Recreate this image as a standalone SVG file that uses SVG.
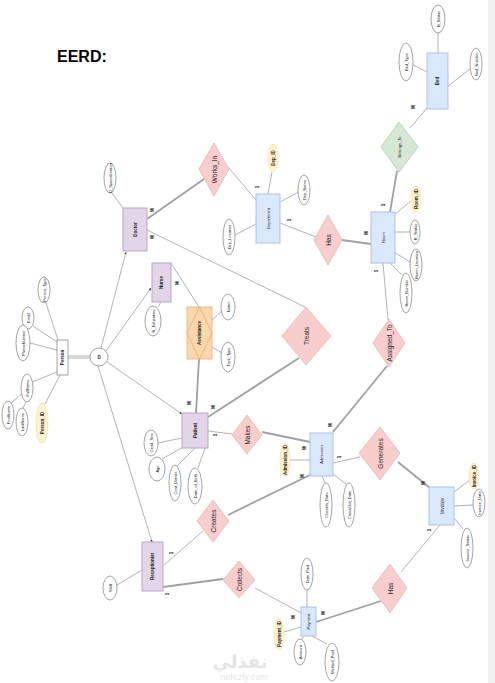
<svg xmlns="http://www.w3.org/2000/svg" width="495" height="683" viewBox="0 0 495 683">
<style>
text{font-family:"Liberation Sans",Arial,sans-serif;fill:#222}
.t{font-size:4px;text-anchor:middle;dominant-baseline:central}
.tb{font-size:4.5px;font-weight:bold;text-anchor:middle;dominant-baseline:central}
.r{font-size:6.5px;text-anchor:middle;dominant-baseline:central}
.c{font-size:4.5px;font-weight:bold;text-anchor:middle;dominant-baseline:central}
.eb{fill:#dae8fc;stroke:#a9c4eb;stroke-width:1}
.ep{fill:#e1d5e7;stroke:#b9a6c7;stroke-width:1}
.rel{fill:#f8cecc;stroke:#eeb4b4;stroke-width:0.8}
.grn{fill:#d5e8d4;stroke:#a8cfa6;stroke-width:0.8}
.at{fill:#fff;stroke:#666;stroke-width:0.6}
.key{fill:#fff2cc;stroke:#f0e0a0;stroke-width:0.6}
.ln{stroke:#a0a0a0;stroke-width:0.8;fill:none}
.lt{stroke:#a0a0a0;stroke-width:1.8;fill:none}
.sub{stroke:#a0a0a0;stroke-width:0.8;fill:none;marker-end:url(#arr)}
</style>
<defs>
<marker id="arr" viewBox="0 0 6 6" refX="6" refY="3" markerWidth="3" markerHeight="3" orient="auto">
<path d="M0,0 L6,3 L0,6 Z" fill="#333"/>
</marker>
</defs>
<rect width="495" height="683" fill="#fff"/>
<rect x="488" y="0" width="7" height="683" fill="#f1f1f1"/>
<text x="57" y="62" style="font-size:16px;font-weight:bold;fill:#000">EERD:</text>

<g id="connectors">
<line class="ln" x1="438" y1="33" x2="438" y2="53"/>
<line class="ln" x1="413" y1="65" x2="427" y2="72"/>
<line class="ln" x1="448" y1="86" x2="470" y2="69"/>
<line class="ln" x1="427" y1="108" x2="410" y2="128"/>
<line class="lt" x1="397" y1="171" x2="390" y2="212"/>
<line class="ln" x1="394" y1="215" x2="411" y2="201"/>
<line class="ln" x1="394" y1="232" x2="410" y2="232"/>
<line class="ln" x1="394" y1="252" x2="410" y2="262"/>
<line class="ln" x1="390" y1="263" x2="402" y2="275"/>
<line class="ln" x1="383" y1="263" x2="388" y2="320"/>
<line class="lt" x1="387" y1="366" x2="333" y2="432"/>
<line class="ln" x1="268" y1="194" x2="272" y2="172"/>
<line class="ln" x1="280" y1="202" x2="299" y2="192"/>
<line class="ln" x1="256" y1="224" x2="235" y2="235"/>
<line class="ln" x1="280" y1="223" x2="316" y2="237"/>
<line class="lt" x1="342" y1="240" x2="371" y2="244"/>
<line class="ln" x1="228" y1="167" x2="256" y2="200"/>
<line class="lt" x1="147" y1="219" x2="204" y2="179"/>
<line class="ln" x1="123" y1="208" x2="112" y2="193"/>
<line class="ln" x1="147" y1="230" x2="305" y2="307"/>
<line class="lt" x1="299" y1="358" x2="208" y2="417"/>
<line class="ln" x1="161" y1="302" x2="158" y2="307"/>
<line class="ln" x1="171" y1="263" x2="199" y2="307"/>
<line class="ln" x1="212" y1="320" x2="222" y2="311"/>
<line class="ln" x1="212" y1="347" x2="222" y2="353"/>
<line class="lt" x1="199" y1="359" x2="196" y2="413"/>
<line class="ln" x1="182" y1="438" x2="158" y2="443"/>
<line class="ln" x1="185" y1="446" x2="162" y2="459"/>
<line class="ln" x1="195" y1="448" x2="177" y2="466"/>
<line class="ln" x1="205" y1="448" x2="198" y2="468"/>
<line class="ln" x1="208" y1="431" x2="232" y2="434"/>
<line class="lt" x1="262" y1="432" x2="310" y2="442"/>
<line class="ln" x1="310" y1="460" x2="290" y2="460"/>
<line class="ln" x1="322" y1="476" x2="325" y2="483"/>
<line class="ln" x1="333" y1="474" x2="346" y2="484"/>
<line class="ln" x1="333" y1="463" x2="360" y2="457"/>
<line class="lt" x1="398" y1="462" x2="430" y2="488"/>
<line class="lt" x1="310" y1="475" x2="228" y2="515"/>
<line class="ln" x1="454" y1="492" x2="470" y2="480"/>
<line class="ln" x1="454" y1="506" x2="473" y2="505"/>
<line class="ln" x1="454" y1="518" x2="463" y2="529"/>
<line class="ln" x1="440" y1="525" x2="401" y2="572"/>
<line class="lt" x1="316" y1="622" x2="381" y2="601"/>
<line class="ln" x1="163" y1="566" x2="203" y2="531"/>
<line class="lt" x1="163" y1="587" x2="223" y2="579"/>
<line class="ln" x1="255" y1="588" x2="301" y2="613"/>
<line class="ln" x1="142" y1="570" x2="117" y2="585"/>
<line class="ln" x1="307" y1="590" x2="307" y2="607"/>
<line class="ln" x1="301" y1="627" x2="284" y2="632"/>
<line class="ln" x1="304" y1="636" x2="302" y2="639"/>
<line class="ln" x1="312" y1="636" x2="327" y2="644"/>
<line class="ln" x1="58" y1="340" x2="46" y2="303"/>
<line class="ln" x1="57" y1="342" x2="33" y2="326"/>
<line class="ln" x1="57" y1="350" x2="30" y2="343"/>
<line class="ln" x1="57" y1="372" x2="32" y2="382"/>
<line class="ln" x1="23" y1="393" x2="11" y2="403"/>
<line class="ln" x1="26" y1="402" x2="23" y2="408"/>
<line class="ln" x1="60" y1="375" x2="45" y2="404"/>
<line class="ln" x1="68" y1="356" x2="90" y2="356"/>
<line class="ln" x1="68" y1="358" x2="90" y2="358"/>
<line class="sub" x1="101" y1="348" x2="126" y2="252"/>
<line class="sub" x1="106" y1="351" x2="151" y2="288"/>
<line class="sub" x1="107" y1="362" x2="182" y2="414"/>
<line class="sub" x1="98" y1="366" x2="152" y2="542"/>
</g>

<g id="person">
<rect x="57" y="340" width="11" height="35" fill="#fff" stroke="#666" stroke-width="0.6"/>
<text class="tb" transform="translate(62.5,357.5) rotate(-90)">Person</text>
</g>
<g id="person-attrs">
<ellipse class="at" cx="44" cy="290" rx="6" ry="13"/><text class="t" transform="translate(44,290) rotate(-90)">Person_Type</text>
<ellipse class="at" cx="28" cy="318" rx="6" ry="11"/><text class="t" transform="translate(28,318) rotate(-90)">Email</text>
<ellipse class="at" cx="23" cy="343" rx="7" ry="18"/><text class="t" transform="translate(23,343) rotate(-90)">PhoneNumber</text>
<ellipse class="at" cx="27" cy="388" rx="6" ry="14"/><text class="t" transform="translate(27,388) rotate(-90)">FullName</text>
<ellipse class="at" cx="8" cy="415" rx="6" ry="14"/><text class="t" transform="translate(8,415) rotate(-90)">FirstName</text>
<ellipse class="at" cx="22" cy="422" rx="6" ry="14"/><text class="t" transform="translate(22,422) rotate(-90)">LastName</text>
<ellipse class="key" cx="42" cy="423" rx="6" ry="20"/><text class="tb" transform="translate(42,423) rotate(-90)">Person_ID</text>
</g>
<g id="disjoint">
<circle cx="99" cy="357" r="9" fill="#fff" stroke="#666" stroke-width="0.6"/>
<text class="tb" x="99" y="357">D</text>
</g>

<g id="doctor">
<rect class="ep" x="123" y="208" width="24" height="43"/>
<text class="tb" transform="translate(135,229.5) rotate(-90)">Doctor</text>
<ellipse class="at" cx="110" cy="178" rx="6" ry="15"/><text class="t" transform="translate(110,178) rotate(-90)">D_Specialization</text>
</g>
<g id="nurse">
<rect class="ep" x="152" y="263" width="19" height="39"/>
<text class="tb" transform="translate(161.5,282.5) rotate(-90)">Nurse</text>
<ellipse class="at" cx="153" cy="321" rx="8" ry="15"/><text class="t" transform="translate(153,321) rotate(-90)">N_Education</text>
</g>
<g id="patient">
<rect class="ep" x="182" y="413" width="26" height="35"/>
<text class="tb" transform="translate(195,430.5) rotate(-90)">Patient</text>
<ellipse class="at" cx="151" cy="443" rx="7" ry="13"/><text class="t" transform="translate(151,443) rotate(-90)">Gend_Sex</text>
<ellipse class="at" cx="157" cy="469" rx="8" ry="12"/><text class="t" transform="translate(157,469) rotate(-90)">Age</text>
<ellipse class="at" cx="175" cy="483" rx="6" ry="18"/><text class="t" transform="translate(175,483) rotate(-90)">Cont_Details</text>
<ellipse class="at" cx="195" cy="486" rx="7" ry="18"/><text class="t" transform="translate(195,486) rotate(-90)">Date_of_Birth</text>
</g>
<g id="receptionist">
<rect class="ep" x="142" y="542" width="21" height="49"/>
<text class="tb" transform="translate(152.5,566.5) rotate(-90)">Receptionist</text>
<ellipse class="at" cx="110" cy="588" rx="7" ry="12"/><text class="t" transform="translate(110,588) rotate(-90)">Shift</text>
</g>

<g id="assistance">
<rect x="187" y="307" width="25" height="52" fill="#fad7ac" stroke="#e8b070" stroke-width="0.8"/>
<polygon points="199.5,307 212,333 199.5,359 187,333" fill="none" stroke="#e8b070" stroke-width="0.8"/>
<text class="tb" transform="translate(199.5,333) rotate(-90)">Assistance</text>
<ellipse class="at" cx="228" cy="307" rx="7" ry="13"/><text class="t" transform="translate(228,307) rotate(-90)">Notes</text>
<ellipse class="at" cx="228" cy="357" rx="7" ry="15"/><text class="t" transform="translate(228,357) rotate(-90)">Task_Type</text>
</g>

<g id="department">
<rect class="eb" x="256" y="194" width="24" height="49"/>
<text class="t" transform="translate(268,218.5) rotate(-90)">Department</text>
<ellipse class="key" cx="273" cy="158" rx="5" ry="14"/><text class="tb" transform="translate(273,158) rotate(-90)">Dep_ID</text>
<ellipse class="at" cx="304" cy="190" rx="6" ry="15"/><text class="t" transform="translate(304,190) rotate(-90)">Dep_Name</text>
<ellipse class="at" cx="229" cy="237" rx="6" ry="18"/><text class="t" transform="translate(229,237) rotate(-90)">Dep_Location</text>
</g>
<g id="room">
<rect class="eb" x="371" y="212" width="24" height="51"/>
<text class="t" transform="translate(383,237.5) rotate(-90)">Room</text>
<ellipse class="key" cx="416" cy="199" rx="5" ry="13"/><text class="tb" transform="translate(416,199) rotate(-90)">Room_ID</text>
<ellipse class="at" cx="415" cy="232" rx="5" ry="12"/><text class="t" transform="translate(415,232) rotate(-90)">R_Status</text>
<ellipse class="at" cx="416" cy="265" rx="6" ry="16"/><text class="t" transform="translate(416,265) rotate(-90)">Room_Location</text>
<ellipse class="at" cx="406" cy="293" rx="6" ry="20"/><text class="t" transform="translate(406,293) rotate(-90)">Room_Number</text>
</g>
<g id="bed">
<rect class="eb" x="427" y="53" width="21" height="56"/>
<text class="tb" transform="translate(437.5,81) rotate(-90)">Bed</text>
<ellipse class="at" cx="438" cy="19" rx="7" ry="14"/><text class="t" transform="translate(438,19) rotate(-90)">B_Status</text>
<ellipse class="at" cx="406" cy="62" rx="7" ry="19"/><text class="t" transform="translate(406,62) rotate(-90)">Bed_Type</text>
<ellipse class="at" cx="476" cy="64" rx="6" ry="16"/><text class="t" transform="translate(476,64) rotate(-90)">Bed_Number</text>
</g>
<g id="admission">
<rect class="eb" x="310" y="433" width="23" height="43"/>
<text class="t" transform="translate(321.5,454.5) rotate(-90)">Admission</text>
<ellipse class="key" cx="285" cy="460" rx="5" ry="17"/><text class="tb" transform="translate(285,460) rotate(-90)">Admission_ID</text>
<ellipse class="at" cx="326" cy="505" rx="6" ry="22"/><text class="t" transform="translate(326,505) rotate(-90)">CheckIn_Date</text>
<ellipse class="at" cx="349" cy="505" rx="6" ry="22"/><text class="t" transform="translate(349,505) rotate(-90)">CheckOut_Date</text>
</g>
<g id="invoice">
<rect class="eb" x="429" y="487" width="25" height="38"/>
<text class="r" style="font-size:5px" transform="translate(441.5,506) rotate(-90)">Invoice</text>
<ellipse class="key" cx="474" cy="476" rx="5" ry="13"/><text class="tb" transform="translate(474,476) rotate(-90)">Invoice_ID</text>
<ellipse class="at" cx="479" cy="503" rx="6" ry="14"/><text class="t" transform="translate(479,503) rotate(-90)">Invoice_Date</text>
<ellipse class="at" cx="467" cy="548" rx="6" ry="20"/><text class="t" transform="translate(467,548) rotate(-90)">Invoice_Status</text>
</g>
<g id="payment">
<rect class="eb" x="301" y="607" width="15" height="29"/>
<text class="t" transform="translate(308.5,621.5) rotate(-90)">Payment</text>
<ellipse class="at" cx="307" cy="574" rx="6" ry="16"/><text class="t" transform="translate(307,574) rotate(-90)">Date_Paid</text>
<ellipse class="key" cx="279" cy="634" rx="5" ry="16"/><text class="tb" transform="translate(279,634) rotate(-90)">Payment_ID</text>
<ellipse class="at" cx="300" cy="652" rx="6" ry="13"/><text class="t" transform="translate(300,652) rotate(-90)">Amount</text>
<ellipse class="at" cx="332" cy="662" rx="7" ry="19"/><text class="t" transform="translate(332,662) rotate(-90)">Method_Paid</text>
</g>

<g id="works_in"><polygon class="rel" points="214,143 229,169 214,196 199,169"/><text class="r" transform="translate(214,169.5) rotate(-90)">Works_In</text></g>
<g id="has_dept_room"><polygon class="rel" points="328,215 342,240 328,265 314,240"/><text class="r" transform="translate(328,240) rotate(-90)">Has</text></g>
<g id="belongs_to"><polygon class="grn" points="399,122 418,147 399,172 381,147"/><text class="t" transform="translate(399,147) rotate(-90)">Belongs_To</text></g>
<g id="treats"><polygon class="rel" points="306,307 331,336 306,365 282,336"/><text class="r" transform="translate(306,336) rotate(-90)">Treats</text></g>
<g id="assigned_to"><polygon class="rel" points="389,319 405,343 389,367 373,343"/><text class="r" transform="translate(389,343) rotate(-90)">Assigned_To</text></g>
<g id="makes"><polygon class="rel" points="247,415 262,435 247,454 232,435"/><text class="r" transform="translate(247,435) rotate(-90)">Makes</text></g>
<g id="generates"><polygon class="rel" points="380,427 400,453 380,480 359,453"/><text class="r" transform="translate(380,453.5) rotate(-90)">Generates</text></g>
<g id="creates"><polygon class="rel" points="213,500 229,521 213,542 197,521"/><text class="r" transform="translate(213,521) rotate(-90)">Creates</text></g>
<g id="collects"><polygon class="rel" points="239,561 255,580 239,598 223,580"/><text class="r" transform="translate(239,579.5) rotate(-90)">Collects</text></g>
<g id="has_payment_invoice"><polygon class="rel" points="390,564 407,588 390,613 372,588"/><text class="r" transform="translate(390,588.5) rotate(-90)">Has</text></g>

<g id="cardinalities">
<text class="c" transform="translate(413,107) rotate(-90)">M</text>
<text class="c" transform="translate(383,205) rotate(-90)">1</text>
<text class="c" transform="translate(366,233) rotate(-90)">M</text>
<text class="c" transform="translate(376,271) rotate(-90)">1</text>
<text class="c" transform="translate(257,187) rotate(-90)">1</text>
<text class="c" transform="translate(289,220) rotate(-90)">1</text>
<text class="c" transform="translate(152,210) rotate(-90)">M</text>
<text class="c" transform="translate(152,237) rotate(-90)">M</text>
<text class="c" transform="translate(177,283) rotate(-90)">M</text>
<text class="c" transform="translate(189,403) rotate(-90)">M</text>
<text class="c" transform="translate(213,407) rotate(-90)">M</text>
<text class="c" transform="translate(215,435) rotate(-90)">1</text>
<text class="c" transform="translate(304,448) rotate(-90)">M</text>
<text class="c" transform="translate(330,425) rotate(-90)">M</text>
<text class="c" transform="translate(302,476) rotate(-90)">M</text>
<text class="c" transform="translate(339,457) rotate(-90)">1</text>
<text class="c" transform="translate(423,483) rotate(-90)">M</text>
<text class="c" transform="translate(429,530) rotate(-90)">1</text>
<text class="c" transform="translate(171,553) rotate(-90)">1</text>
<text class="c" transform="translate(167,594) rotate(-90)">1</text>
<text class="c" transform="translate(293,617) rotate(-90)">M</text>
<text class="c" transform="translate(323,613) rotate(-90)">M</text>
</g>

<g id="watermark" opacity="0.25">
<text x="240" y="668" style="font-size:18px;font-weight:bold;fill:#999;text-anchor:middle;font-family:'DejaVu Sans',sans-serif">نفذلي</text>
<text x="244" y="680" style="font-size:9px;fill:#999;text-anchor:middle">nafezly.com</text>
</g>
</svg>
